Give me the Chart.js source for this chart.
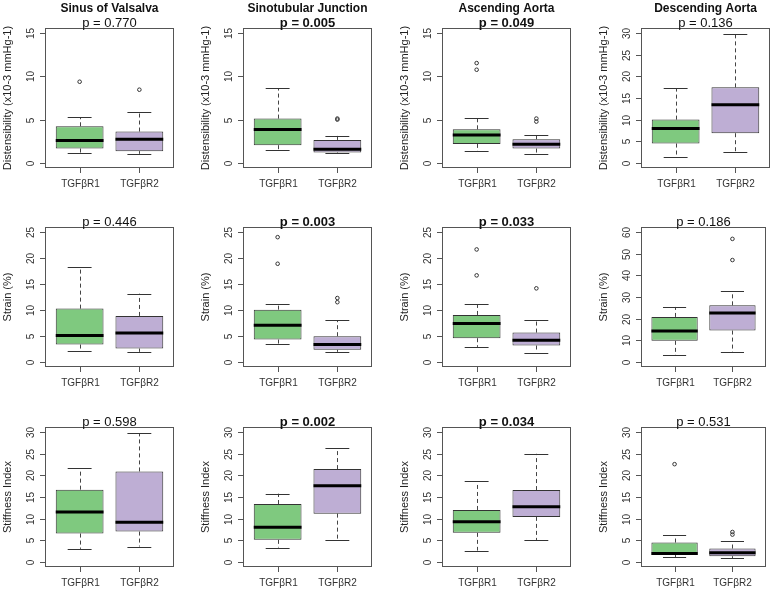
<!DOCTYPE html>
<html><head><meta charset="utf-8">
<script src="https://cdn.jsdelivr.net/npm/chart.js@4.4.1/dist/chart.umd.min.js"></script>
<style>
html,body{margin:0;padding:0;background:#fff;overflow:hidden;width:771px;height:591px;position:relative}
canvas{position:absolute}
</style>
</head><body>
<script>
// ---------- data ----------
const categories = ['TGFβR1', 'TGFβR2'];
const regions = ['Sinus of Valsalva', 'Sinotubular Junction', 'Ascending Aorta', 'Descending Aorta'];
const measures = ['Distensibility (x10-3 mmHg-1)', 'Strain (%)', 'Stiffness Index'];
const pValues = [
  ['0.770', '0.005', '0.049', '0.136'],
  ['0.446', '0.003', '0.033', '0.186'],
  ['0.598', '0.002', '0.034', '0.531']
];
const significant = [
  [false, true, true, false],
  [false, true, true, false],
  [false, true, true, false]
];
const yAxisMax = [[15, 15, 15, 30], [25, 25, 25, 60], [30, 30, 30, 30]];
const yTickStep = [[5, 5, 5, 5], [5, 5, 5, 10], [5, 5, 5, 5]];

// box stats: [lower whisker, Q1, median, Q3, upper whisker]
const distR1 = [[1.12, 1.65, 2.58, 4.23, 5.27], [1.54, 2.04, 3.85, 5.12, 8.65], [1.35, 2.19, 3.23, 3.88, 5.15], [1.38, 4.46, 7.92, 10.0, 17.3]];
const distR2 = [[1.04, 1.35, 2.73, 3.62, 5.85], [1.08, 1.19, 1.58, 2.65, 3.15], [1.0, 1.65, 2.15, 2.73, 3.19], [2.54, 6.85, 13.46, 17.46, 29.9]];
const distOutR1 = [[9.38], [], [11.54, 10.77], []];
const distOutR2 = [[8.46], [5.12, 5.0], [5.12, 4.77], []];

const strainR1 = [[2.05, 3.33, 5.06, 10.26, 18.27], [3.46, 4.29, 7.05, 10.06, 11.09], [2.88, 4.55, 7.37, 9.04, 11.15], [3.08, 9.7, 14.3, 20.77, 25.4]];
const strainR2 = [[1.92, 2.56, 5.58, 8.85, 13.14], [1.92, 2.31, 3.33, 4.94, 8.01], [1.79, 3.14, 4.17, 5.64, 8.08], [4.6, 14.46, 22.6, 26.15, 32.6]];
const strainOutR1 = [[], [24.04, 18.91], [21.67, 16.67], []];
const strainOutR2 = [[], [12.3, 11.5], [14.17], [56.9, 47.1]];

const stiffR1 = [[3.0, 6.54, 11.54, 16.7, 21.7], [3.31, 5.08, 8.0, 13.38, 15.77], [2.6, 6.7, 9.3, 12.0, 18.6], [1.0, 1.6, 1.92, 4.46, 6.15]];
const stiffR2 = [[3.54, 7.0, 9.15, 20.92, 29.77], [5.0, 11.15, 17.6, 21.46, 26.23], [5.0, 10.4, 12.77, 16.6, 25.0], [0.77, 1.3, 2.08, 3.08, 4.77]];
const stiffOutR1 = [[], [], [], [22.6]];
const stiffOutR2 = [[], [], [], [6.9, 6.3]];

const groupColors = ['#7FC97F', '#BEAED4'];

// ---------- layout ----------
const colL = [45, 243, 442, 641];
const rowT = [28, 227, 427];
const FW = 129, FH = 140;
const FONT = '"Liberation Sans", Arial, Helvetica, sans-serif';

const rowsData = [
  [distR1, distR2, distOutR1, distOutR2],
  [strainR1, strainR2, strainOutR1, strainOutR2],
  [stiffR1, stiffR2, stiffOutR1, stiffOutR2]
];

function hline(ctx, x1, x2, y) { ctx.beginPath(); ctx.moveTo(x1, y); ctx.lineTo(x2, y); ctx.stroke(); }
function vline(ctx, x, y1, y2) { ctx.beginPath(); ctx.moveTo(x, y1); ctx.lineTo(x, y2); ctx.stroke(); }

const rBoxPlugin = {
  id: 'rbox',
  beforeDatasetsDraw(chart, args, opts) {
    const {ctx, scales: {x, y}} = chart;
    opts.stats.forEach((s, i) => {
      const cx = Math.round(x.getPixelForValue(i + 1)) + 0.5;
      const c1 = x.getPixelForValue(i + 1 - 0.2), c2 = x.getPixelForValue(i + 1 + 0.2);
      ctx.save();
      ctx.strokeStyle = '#444';
      ctx.lineWidth = 1;
      ctx.setLineDash([4, 3]);
      vline(ctx, cx, y.getPixelForValue(s[3]), y.getPixelForValue(s[4]));
      vline(ctx, cx, y.getPixelForValue(s[1]), y.getPixelForValue(s[0]));
      ctx.setLineDash([]);
      ctx.strokeStyle = '#333';
      hline(ctx, c1, c2, Math.round(y.getPixelForValue(s[4])) + 0.5);
      hline(ctx, c1, c2, Math.round(y.getPixelForValue(s[0])) + 0.5);
      ctx.restore();
    });
  },
  afterDatasetsDraw(chart, args, opts) {
    const {ctx, scales: {x, y}} = chart;
    opts.stats.forEach((s, i) => {
      const b1 = x.getPixelForValue(i + 1 - 0.4), b2 = x.getPixelForValue(i + 1 + 0.4);
      ctx.save();
      ctx.strokeStyle = '#000';
      ctx.lineWidth = 3;
      hline(ctx, b1, b2, y.getPixelForValue(s[2]));
      ctx.restore();
    });
  },
  afterDraw(chart, args, opts) {
    const {ctx, chartArea: a, scales: {x, y}} = chart;
    ctx.save();
    // frame
    ctx.strokeStyle = '#555';
    ctx.lineWidth = 1;
    ctx.strokeRect(a.left + 0.5, a.top + 0.5, a.right - a.left - 1, a.bottom - a.top - 1);
    // y ticks
    ctx.strokeStyle = '#555';
    ctx.fillStyle = '#333';
    ctx.font = '10px ' + FONT;
    ctx.textAlign = 'center';
    ctx.textBaseline = 'alphabetic';
    for (let v = 0; v <= opts.yMax + 1e-9; v += opts.yStep) {
      const py = Math.round(y.getPixelForValue(v)) + 0.5;
      hline(ctx, a.left - 5, a.left + 0.5, py);
      ctx.save();
      ctx.translate(a.left - 11, py);
      ctx.rotate(-Math.PI / 2);
      ctx.fillText(String(v), 0, 0);
      ctx.restore();
    }
    // x ticks + labels
    opts.categories.forEach((lab, i) => {
      const px = Math.round(x.getPixelForValue(i + 1)) + 0.5;
      vline(ctx, px, a.bottom - 0.5, a.bottom + 5);
      ctx.fillText(lab, px, a.bottom + 19);
    });
    // y axis title
    ctx.font = '11px ' + FONT;
    ctx.fillStyle = '#222';
    ctx.save();
    ctx.translate(a.left - 34, (a.top + a.bottom) / 2);
    ctx.rotate(-Math.PI / 2);
    ctx.fillText(opts.yTitle, 0, 0);
    ctx.restore();
    const mid = (a.left + a.right) / 2;
    // p value
    ctx.fillStyle = '#111';
    ctx.font = (opts.bold ? 'bold ' : '') + '13px ' + FONT;
    ctx.fillText('p = ' + opts.p, mid, a.top - 1.5);
    // region title
    if (opts.title) {
      ctx.font = 'bold 12px ' + FONT;
      ctx.fillText(opts.title, mid, a.top - 16);
    }
    ctx.restore();
  }
};

for (let r = 0; r < 3; r++) {
  for (let c = 0; c < 4; c++) {
    const [g1, g2, o1, o2] = rowsData[r];
    const s1 = g1[c], s2 = g2[c];
    const left = colL[c] - 45, top = rowT[r] - 28;
    const w = c < 3 ? 198 : 771 - left;
    const h = r < 2 ? 199 : 591 - top;
    const cv = document.createElement('canvas');
    cv.width = w; cv.height = h;
    cv.style.left = left + 'px'; cv.style.top = top + 'px';
    cv.style.width = w + 'px'; cv.style.height = h + 'px';
    document.body.appendChild(cv);
    const yMax = yAxisMax[r][c];
    const outliers = o1[c].map(v => ({x: 1, y: v})).concat(o2[c].map(v => ({x: 2, y: v})));
    new Chart(cv, {
      type: 'bar',
      data: {
        datasets: [
          {
            type: 'bar',
            data: [{x: 1, y: [s1[1], s1[3]]}, {x: 2, y: [s2[1], s2[3]]}],
            backgroundColor: groupColors,
            borderColor: '#333',
            borderWidth: 1,
            borderSkipped: false,
            barPercentage: 0.8,
            categoryPercentage: 1.0
          },
          {
            type: 'scatter',
            data: outliers,
            pointRadius: 1.8,
            pointBorderWidth: 1,
            pointBorderColor: '#333',
            pointBackgroundColor: 'rgba(0,0,0,0)'
          }
        ]
      },
      options: {
        responsive: false,
        animation: false,
        devicePixelRatio: 1,
        layout: {padding: {left: 45, top: 28, right: w - 45 - FW, bottom: h - 28 - FH}},
        scales: {
          x: {
            type: 'linear', display: false, offset: false,
            min: 0.42, max: 2.58,
            afterBuildTicks: (s) => { s.ticks = [{value: 1}, {value: 2}]; }
          },
          y: {
            type: 'linear', display: false,
            min: -0.04 * yMax, max: 1.04 * yMax
          }
        },
        plugins: {
          legend: {display: false},
          tooltip: {enabled: false},
          rbox: {
            stats: [s1, s2],
            categories: categories,
            yMax: yMax,
            yStep: yTickStep[r][c],
            yTitle: measures[r],
            p: pValues[r][c],
            bold: significant[r][c],
            title: r === 0 ? regions[c] : null
          }
        }
      },
      plugins: [rBoxPlugin]
    });
  }
}
</script>
</body></html>
